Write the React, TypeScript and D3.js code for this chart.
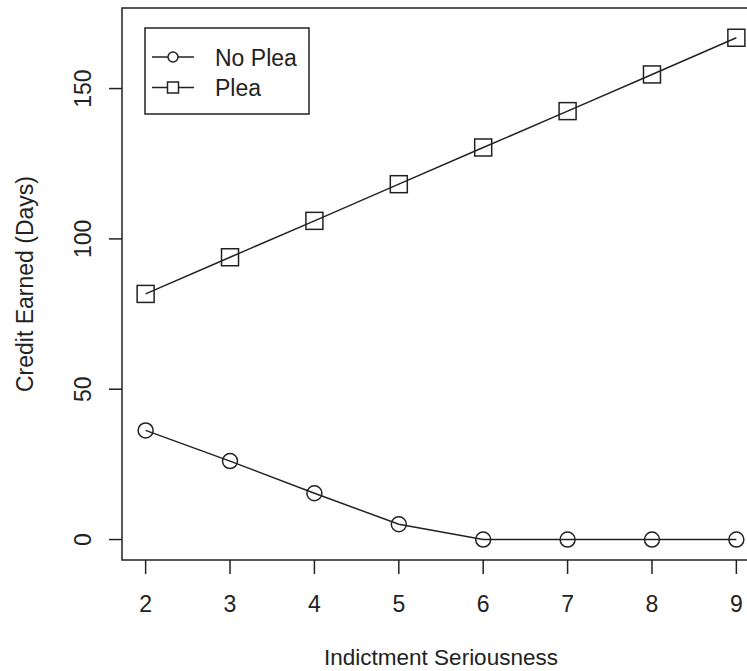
import { useEffect, useRef } from 'react'
import * as d3 from 'd3'

const seriousness = [2, 3, 4, 5, 6, 7, 8, 9]
const noPlea = [36.3, 26.1, 15.4, 5.1, 0, 0, 0, 0]
const plea = [81.7, 93.9, 106.0, 118.2, 130.4, 142.5, 154.7, 166.9]
const xTicks = [2, 3, 4, 5, 6, 7, 8, 9]
const yTicks = [0, 50, 100, 150]
const legendLabels = ['No Plea', 'Plea']

const W = 747
const H = 671
const FONT = '"Liberation Sans", Arial, sans-serif'
const INK = '#222'

export default function App() {
  const svgRef = useRef<SVGSVGElement>(null)

  useEffect(() => {
    document.body.style.margin = '0'
    if (!svgRef.current) return
    const svg = d3.select(svgRef.current)
    svg.selectAll('*').remove()

    const m = { left: 122, top: 8, right: 760, bottom: 560 }
    // R-style 4% padding on x
    const x = d3.scaleLinear().domain([2 - 0.28, 9 + 0.28]).range([m.left, m.right])
    const y = d3.scaleLinear().domain([-6.8, 176.8]).range([m.bottom, m.top])

    svg.append('rect').attr('width', W).attr('height', H).attr('fill', '#fff')

    // plot box
    svg.append('rect')
      .attr('x', m.left).attr('y', m.top)
      .attr('width', m.right - m.left).attr('height', m.bottom - m.top)
      .attr('fill', 'none').attr('stroke', INK).attr('stroke-width', 1.5)

    // x axis
    const xa = svg.append('g')
    xa.selectAll('line').data(xTicks).enter().append('line')
      .attr('x1', d => x(d)).attr('x2', d => x(d))
      .attr('y1', m.bottom).attr('y2', m.bottom + 14)
      .attr('stroke', INK).attr('stroke-width', 1.5)
    xa.selectAll('text').data(xTicks).enter().append('text')
      .attr('x', d => x(d)).attr('y', 612)
      .attr('text-anchor', 'middle').attr('font-family', FONT).attr('font-size', 23).attr('fill', INK)
      .text(d => d)

    // y axis
    const ya = svg.append('g')
    ya.selectAll('line').data(yTicks).enter().append('line')
      .attr('x1', m.left - 13).attr('x2', m.left)
      .attr('y1', d => y(d)).attr('y2', d => y(d))
      .attr('stroke', INK).attr('stroke-width', 1.5)
    ya.selectAll('text').data(yTicks).enter().append('text')
      .attr('transform', d => `translate(91,${y(d)}) rotate(-90)`)
      .attr('text-anchor', 'middle').attr('font-family', FONT).attr('font-size', 23).attr('fill', INK)
      .text(d => d)

    // axis titles
    svg.append('text')
      .attr('x', (m.left + m.right) / 2).attr('y', 665)
      .attr('text-anchor', 'middle').attr('font-family', FONT).attr('font-size', 22.5).attr('fill', INK)
      .text('Indictment Seriousness')
    svg.append('text')
      .attr('transform', `translate(33,${(m.top + m.bottom) / 2}) rotate(-90)`)
      .attr('text-anchor', 'middle').attr('font-family', FONT).attr('font-size', 23).attr('fill', INK)
      .text('Credit Earned (Days)')

    const line = d3.line<number>().x((_, i) => x(seriousness[i])).y(d => y(d))

    // No Plea
    svg.append('path').datum(noPlea).attr('d', line)
      .attr('fill', 'none').attr('stroke', INK).attr('stroke-width', 1.5)
    svg.append('g').selectAll('circle').data(noPlea).enter().append('circle')
      .attr('cx', (_, i) => x(seriousness[i])).attr('cy', d => y(d)).attr('r', 7.5)
      .attr('fill', 'none').attr('stroke', INK).attr('stroke-width', 1.5)

    // Plea
    const s = 17
    svg.append('path').datum(plea).attr('d', line)
      .attr('fill', 'none').attr('stroke', INK).attr('stroke-width', 1.5)
    svg.append('g').selectAll('rect').data(plea).enter().append('rect')
      .attr('x', (_, i) => x(seriousness[i]) - s / 2).attr('y', d => y(d) - s / 2)
      .attr('width', s).attr('height', s)
      .attr('fill', 'none').attr('stroke', INK).attr('stroke-width', 1.5)

    // legend
    const lg = svg.append('g')
    lg.append('rect').attr('x', 145).attr('y', 28).attr('width', 164).attr('height', 86)
      .attr('fill', '#fff').attr('stroke', INK).attr('stroke-width', 1.5)
    legendLabels.forEach((label, i) => {
      const cy = 57 + i * 30.5
      lg.append('line').attr('x1', 152).attr('x2', 194).attr('y1', cy).attr('y2', cy)
        .attr('stroke', INK).attr('stroke-width', 1.5)
      if (i === 0) {
        lg.append('circle').attr('cx', 173).attr('cy', cy).attr('r', 5)
          .attr('fill', '#fff').attr('stroke', INK).attr('stroke-width', 1.5)
      } else {
        lg.append('rect').attr('x', 173 - 5.5).attr('y', cy - 5.5).attr('width', 11).attr('height', 11)
          .attr('fill', '#fff').attr('stroke', INK).attr('stroke-width', 1.5)
      }
      lg.append('text').attr('x', 215).attr('y', cy + 8.5)
        .attr('font-family', FONT).attr('font-size', 23).attr('fill', INK)
        .text(label)
    })
  }, [])

  return <svg ref={svgRef} width={W} height={H} style={{ display: 'block' }} />
}
